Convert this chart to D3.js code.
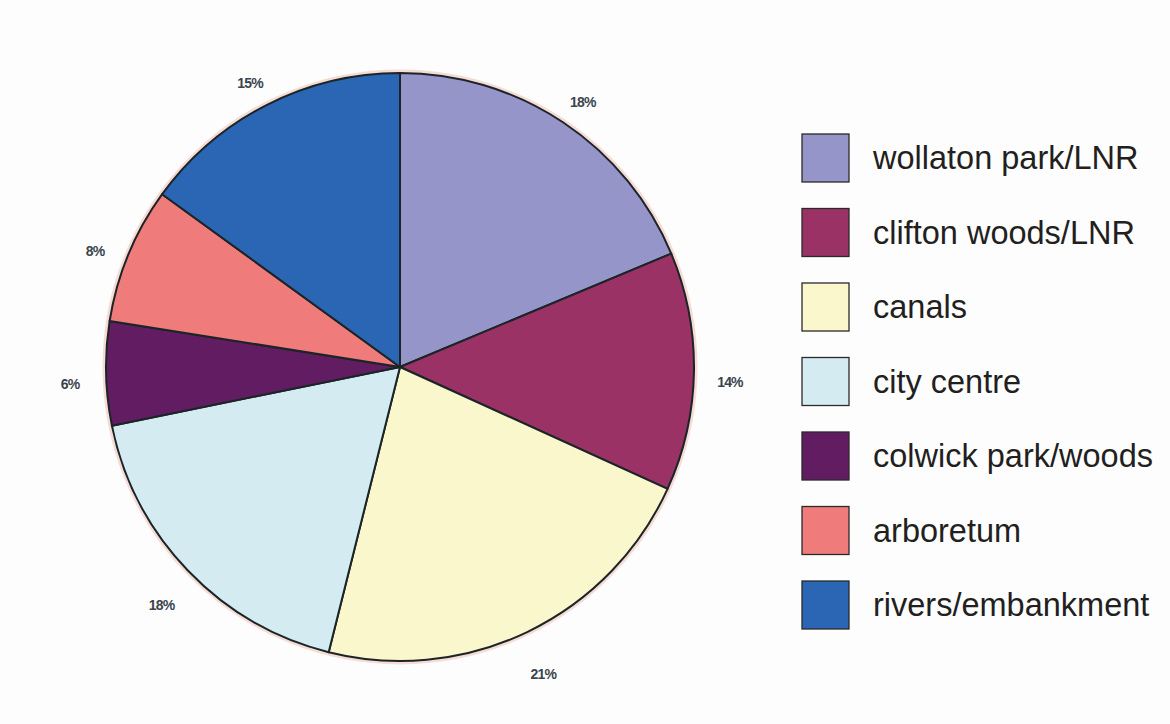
<!DOCTYPE html>
<html>
<head>
<meta charset="utf-8">
<script src="https://cdnjs.cloudflare.com/ajax/libs/d3/7.8.5/d3.min.js"></script>
<style>
  body { margin: 0; background: #fdfdfe; }
  svg { display: block; }
</style>
</head>
<body>
<svg width="1170" height="724"></svg>
<script>
// categories, shares and the printed labels
var categories = ["wollaton park/LNR", "clifton woods/LNR", "canals", "city centre",
                  "colwick park/woods", "arboretum", "rivers/embankment"];
var shares = [18.7, 13.1, 22.1, 17.9, 5.7, 7.5, 15.0];
var pctLabels = ["18%", "14%", "21%", "18%", "6%", "8%", "15%"];
var colors = ["#9595c9", "#9a3265", "#fbf7cc", "#d4ebf2", "#621c62", "#f07b7b", "#2b66b4"];

var svg = d3.select("svg");
var center = {x: 400, y: 367};
var radius = 294;

var data = categories.map(function(c, i) {
  return {name: c, value: shares[i], label: pctLabels[i], color: colors[i]};
});

var pie = d3.pie()
  .sort(null)
  .value(function(d) { return d.value; });

var arc = d3.arc().innerRadius(0).outerRadius(radius);
var labelArc = d3.arc().innerRadius(330).outerRadius(330);

var g = svg.append("g")
  .attr("transform", "translate(" + center.x + "," + center.y + ")");

// faint warm fringe round the rim, like the scanned original
g.append("circle")
  .attr("r", radius + 1.5)
  .attr("fill", "none")
  .attr("stroke", "#f6dcd4")
  .attr("stroke-width", 4);

var arcs = pie(data);

g.selectAll("path.slice")
  .data(arcs)
  .enter().append("path")
  .attr("class", "slice")
  .attr("d", arc)
  .attr("fill", function(d) { return d.data.color; })
  .attr("stroke", "#1b2528")
  .attr("stroke-width", 2)
  .attr("stroke-linejoin", "round");

g.selectAll("text.pct")
  .data(arcs)
  .enter().append("text")
  .attr("class", "pct")
  .attr("transform", function(d) {
    var c = labelArc.centroid(d);
    return "translate(" + c[0] + "," + (c[1] + 10) + ")";
  })
  .attr("text-anchor", "middle")
  .attr("dy", "0.35em")
  .style("font-family", "Liberation Sans, Arial, sans-serif")
  .style("font-weight", "bold")
  .style("font-size", "14px")
  .style("letter-spacing", "-0.8px")
  .attr("fill", "#3a454c")
  .text(function(d) { return d.data.label; });

// legend
var legend = svg.append("g").attr("transform", "translate(802,134)");
var rowStep = 74.5;

var rows = legend.selectAll("g.row")
  .data(data)
  .enter().append("g")
  .attr("class", "row")
  .attr("transform", function(d, i) { return "translate(0," + (i * rowStep) + ")"; });

rows.append("rect")
  .attr("width", 47)
  .attr("height", 48)
  .attr("fill", function(d) { return d.color; })
  .attr("stroke", "#2a2a2a")
  .attr("stroke-width", 1.3);

rows.append("text")
  .attr("x", 71)
  .attr("y", 24)
  .attr("dy", "0.35em")
  .style("font-family", "Liberation Sans, Arial, sans-serif")
  .style("font-size", "32.5px")
  .attr("fill", "#231f20")
  .text(function(d) { return d.name; });
</script>
</body>
</html>
